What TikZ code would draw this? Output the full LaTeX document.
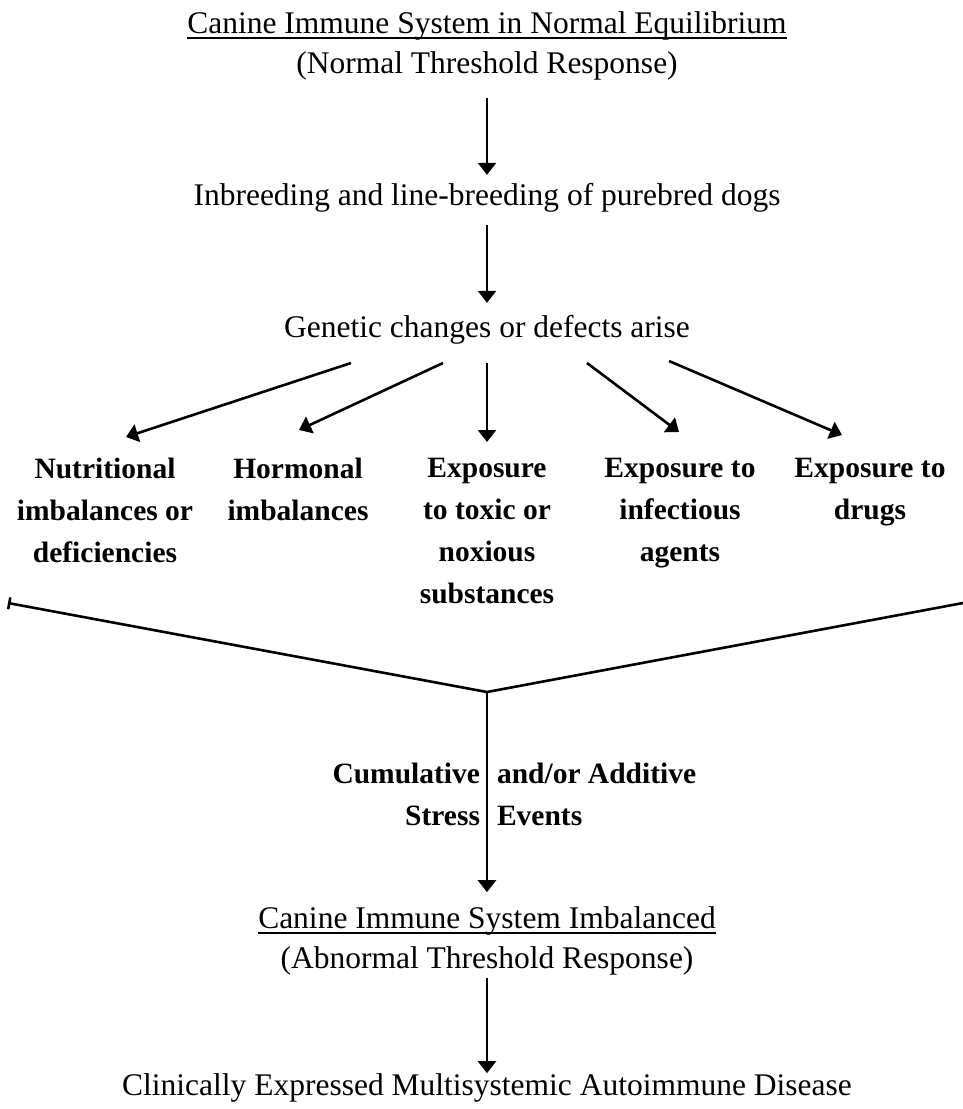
\documentclass[tikz,border=0pt]{standalone}
\usepackage{fontspec}
\setmainfont{Liberation Serif}
\usetikzlibrary{arrows.meta,positioning}

\begin{document}
\begin{tikzpicture}[
  x=1pt, y=-1pt,
  every node/.style={inner sep=0pt, outer sep=0pt},
  lbl/.style={font=\fontsize{31.5}{40}\selectfont, anchor=base},
  cause/.style={font=\bfseries\fontsize{29.5}{42}\selectfont, align=center, anchor=north},
  >={Triangle[length=12pt,width=18pt]}, line width=2.6pt
]
\useasboundingbox (0,0) rectangle (963,1109);

% Nodes (states)
\node[lbl] (norm) at (487,33) {Canine Immune System in Normal Equilibrium};
\node[lbl] (normsub) at (487,73) {(Normal Threshold Response)};
\node[lbl] (inbr) at (487,205) {Inbreeding and line-breeding of purebred dogs};
\node[lbl] (gen) at (487,337) {Genetic changes or defects arise};
\node[lbl] (imb) at (487,928) {Canine Immune System Imbalanced};
\node[lbl] (imbsub) at (487,968) {(Abnormal Threshold Response)};
\node[lbl] (dis) at (487,1095) {Clinically Expressed Multisystemic Autoimmune Disease};

% Underlines
\draw[line width=1.3pt] ([yshift=-5pt]norm.base west) -- ([yshift=-5pt]norm.base east);
\draw[line width=1.3pt] ([yshift=-5pt]imb.base west) -- ([yshift=-5pt]imb.base east);

% Nodes (causes)
\node[cause] (nutr) at (105,458) {Nutritional\\imbalances or\\deficiencies};
\node[cause] (horm) at (298,458) {Hormonal\\imbalances};
\node[cause] (toxic) at (487,458) {Exposure\\to toxic or\\noxious\\substances};
\node[cause] (infect) at (680,458) {Exposure to\\infectious\\agents};
\node[cause] (drugs) at (870,458) {Exposure to\\drugs};

% Stress labels
\node[cause, align=right, anchor=north east] (cumul) at (480,763) {Cumulative\\Stress};
\node[cause, align=left, anchor=north west] (addit) at (497,763) {and/or Additive\\Events};

% Arrow ends
\coordinate (g1) at (351,363);
\coordinate (g2) at (443,363);
\coordinate (g4) at (587,363);
\coordinate (g5) at (669,361);
\coordinate (t1) at (126,437);
\coordinate (t2) at (299,430);
\coordinate (t4) at (679,432);
\coordinate (t5) at (842,435);
\coordinate (vl) at (8,603);
\coordinate (vj) at (487,692);
\coordinate (vr) at (963,603);

% Arrows (main chain)
\draw[->, shorten <=18pt, shorten >=8pt] (normsub) -- (inbr);
\draw[->, shorten <=13pt, shorten >=12pt] (inbr) -- (gen);
\draw[->, shorten <=3pt] (imbsub) -- (dis);

% Arrows (causes)
\draw[->] (g1) -- (t1);
\draw[->] (g2) -- (t2);
\draw[->, shorten <=19pt, shorten >=16pt] (gen) -- (toxic);
\draw[->] (g4) -- (t4);
\draw[->] (g5) -- (t5);

% Merge lines
\draw[{Bar[width=12pt]}-] (vl) -- (vj) -- (vr);
\draw[->, shorten >=14pt] (vj) -- (imb);

\end{tikzpicture}
\end{document}
